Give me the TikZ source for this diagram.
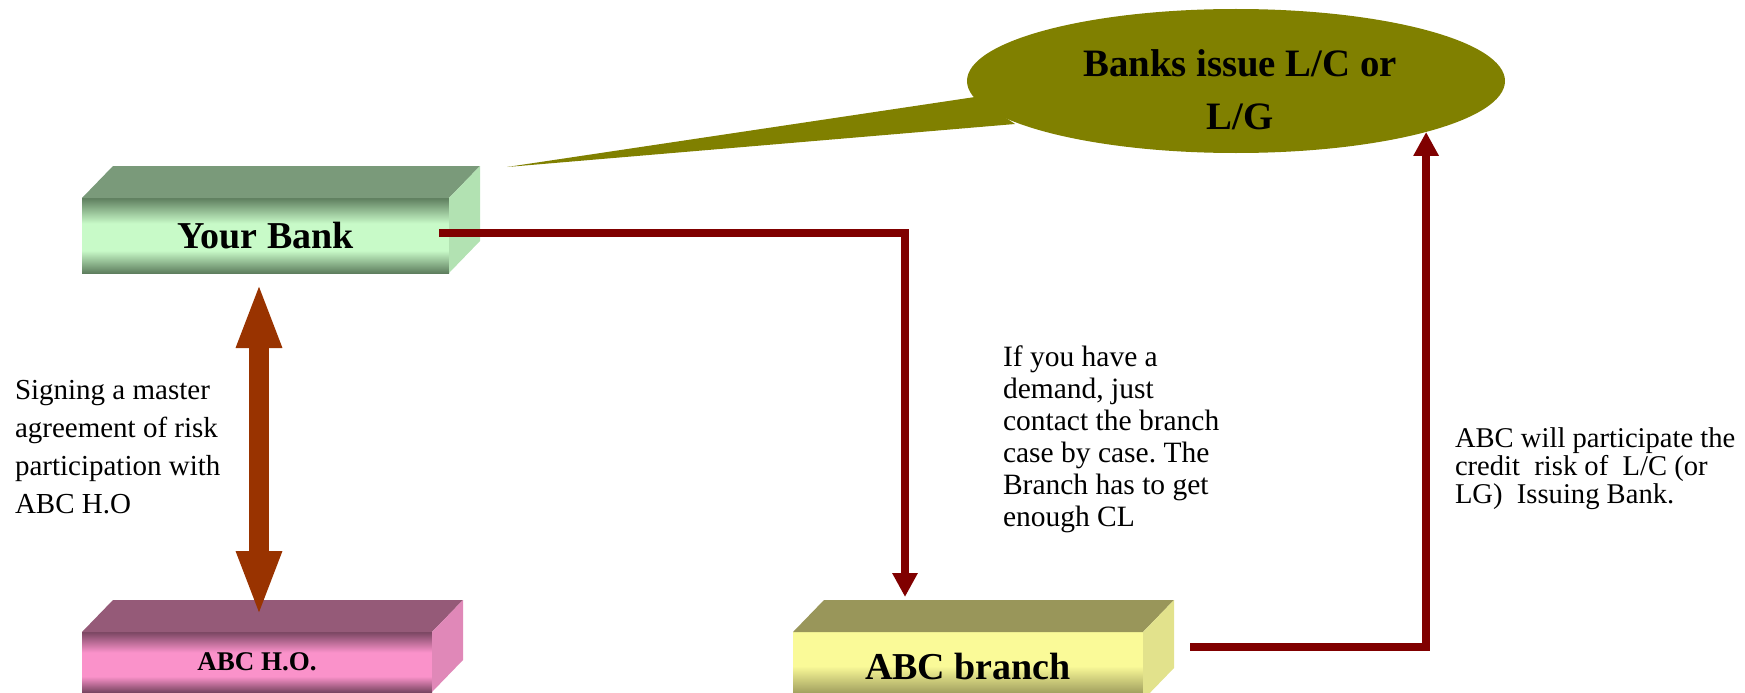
\documentclass[tikz,border=0pt]{standalone}
\usepackage{fontspec}
\setmainfont{Liberation Serif}
\usetikzlibrary{arrows.meta,calc,shapes.geometric}
\frenchspacing

\definecolor{ybTop}{HTML}{7A9A7A}
\definecolor{ybSide}{HTML}{B2E2B2}
\definecolor{ybL}{HTML}{C8FAC8}
\definecolor{ybD}{HTML}{5E7E5E}
\definecolor{hoTop}{HTML}{955A78}
\definecolor{hoSide}{HTML}{E088B8}
\definecolor{hoL}{HTML}{FA92CA}
\definecolor{hoD}{HTML}{7A4662}
\definecolor{brTop}{HTML}{99965A}
\definecolor{brSide}{HTML}{E2E28C}
\definecolor{brL}{HTML}{FAFA98}
\definecolor{brD}{HTML}{8A8850}
\definecolor{connRed}{HTML}{800000}
\definecolor{dblBrown}{HTML}{993300}
\definecolor{calloutOlive}{HTML}{808000}

\pgfdeclareverticalshading{ybfront}{100bp}{color(0bp)=(ybD); color(25bp)=(ybD); color(40bp)=(ybL); color(58bp)=(ybL); color(75bp)=(ybD); color(100bp)=(ybD)}
\pgfdeclareverticalshading{hofront}{100bp}{color(0bp)=(hoD); color(25bp)=(hoD); color(38bp)=(hoL); color(58bp)=(hoL); color(75bp)=(hoD); color(100bp)=(hoD)}
\pgfdeclareverticalshading{brfront}{100bp}{color(0bp)=(brD); color(25bp)=(brD); color(50bp)=(brL); color(75bp)=(brL); color(100bp)=(brL)}

\newcommand{\cuboidfaces}[3]{%
  \fill[#2] (#1.north west) -- ++(31,-32) -- ([shift={(31,-32)}]#1.north east) -- (#1.north east) -- cycle;
  \fill[#3] (#1.north east) -- ++(31,-32) -- ([shift={(31,-32)}]#1.south east) -- (#1.south east) -- cycle;}

\tikzset{
  frontface/.style={rectangle, inner sep=0pt, outer sep=0pt, text=black},
  conn/.style={draw=connRed, line width=8pt, line join=miter, -{Triangle[width=24pt,length=24pt]}},
  dblarrow/.style={draw=dblBrown, line width=20pt, {Triangle[width=41pt,length=66pt]}-{Triangle[width=41pt,length=66pt]}},
  note/.style={inner sep=0pt, outer sep=0pt, align=left, anchor=north west, font=\fontsize{29}{38}\selectfont}
}

\begin{document}
\begin{tikzpicture}[x=1pt, y=-1pt]
\useasboundingbox (0,0) rectangle (1745,693);
\clip (0,0) rectangle (1745,693);

% Your Bank
\node[frontface, shading=ybfront, minimum width=367pt, minimum height=75pt,
      font=\fontsize{38}{44}\selectfont\bfseries] (yb) at (265.5,235.5) {Your Bank};
\cuboidfaces{yb}{ybTop}{ybSide}

% ABC H.O.
\node[frontface, shading=hofront, minimum width=350pt, minimum height=60pt,
      font=\fontsize{27}{32}\selectfont\bfseries] (ho) at (257,662) {ABC H.O.};
\cuboidfaces{ho}{hoTop}{hoSide}

% ABC branch
\node[frontface, shading=brfront, minimum width=350pt, minimum height=68pt,
      font=\fontsize{38}{44}\selectfont\bfseries] (br) at (968,666) {ABC branch};
\cuboidfaces{br}{brTop}{brSide}

% Callout
\node[ellipse, fill=calloutOlive, inner sep=0pt, outer sep=0pt,
      minimum width=538pt, minimum height=144pt] (cl) at (1236,81) {};
\fill[calloutOlive] ($(cl.center)+(-261,16)$) -- (507,167) -- ($(cl.center)+(-221,43)$) -- cycle;
\node[inner sep=0pt, align=center, anchor=north, font=\fontsize{38.8}{53}\selectfont\bfseries]
  (cltext) at (1240,49) {Banks issue L/C or\\L/G};

% connectors
\draw[conn] ($(yb.east)+(-10,-2.5)$) -| ($(br.north)+(-63,-35)$);
\draw[conn] ($(br.east)+(47,-19)$) -| (cl.-15);
\draw[dblarrow] ($(yb.south)+(-6.5,9)$) -- ($(ho.north)+(2,-15)$);

% texts
\node[note] (t1) at (15,380) {Signing a master\\agreement of risk\\participation with\\ABC H.O};
\node[note, font=\fontsize{29.5}{32}\selectfont] (t2) at (1003,346) {If you have a\\demand, just\\contact the branch\\case by case. The\\Branch has to get\\enough CL};
\node[note, font=\fontsize{28.6}{28}\selectfont] (t3) at (1455,428) {ABC will participate the\\credit\ \ risk of\ \ L/C (or\\LG)\ \ Issuing Bank.};
\end{tikzpicture}
\end{document}
